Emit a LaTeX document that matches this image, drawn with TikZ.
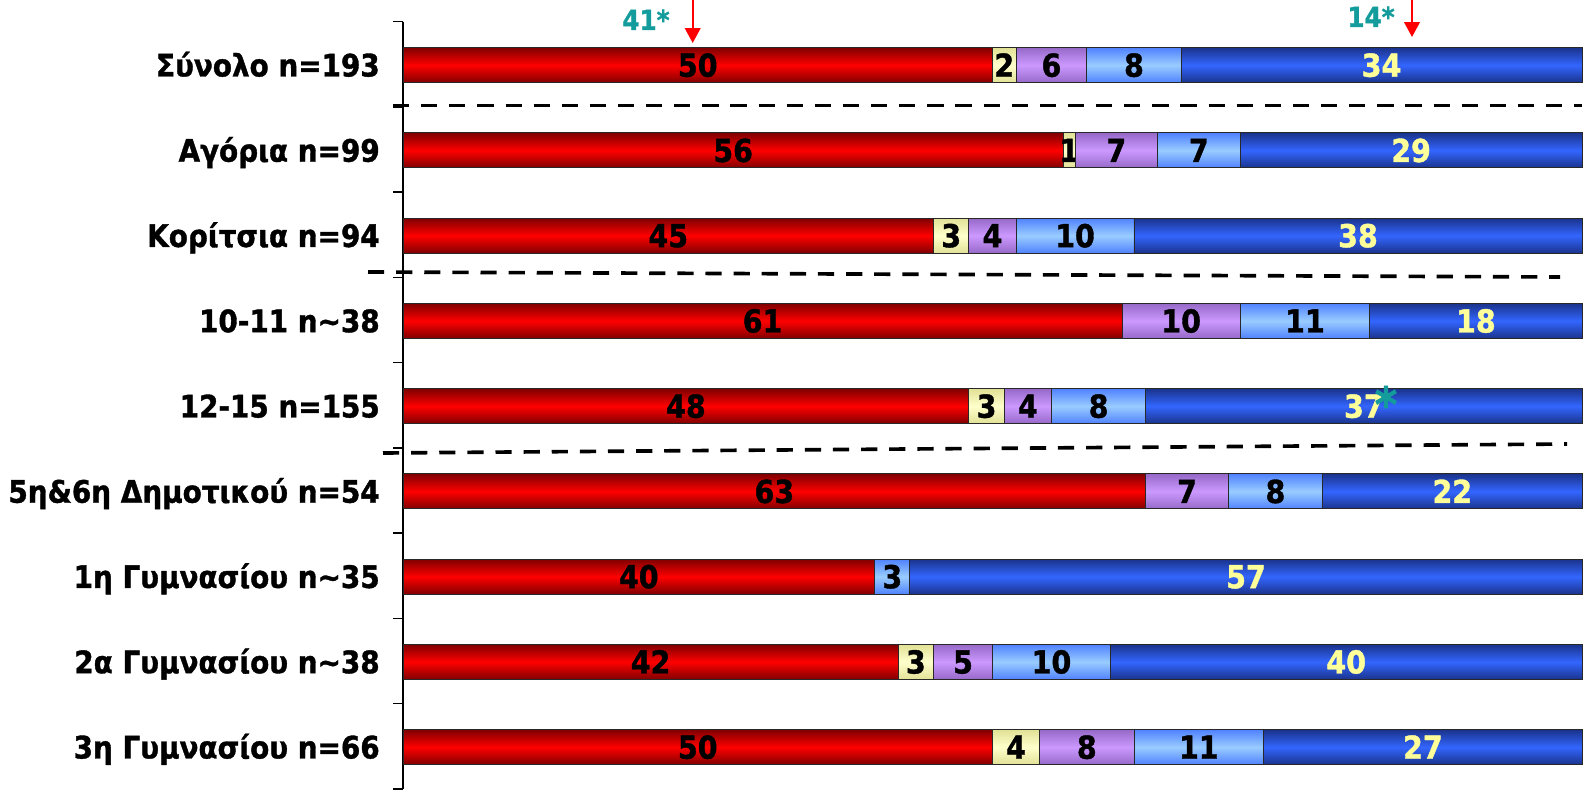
\documentclass[tikz,border=0pt]{standalone}
\usepackage{fontspec}
\newfontfamily\chartfont{DejaVu Sans}[FakeStretch=0.9,BoldFeatures={FakeBold=1.2}]
\usetikzlibrary{arrows.meta}

\definecolor{redDark}{RGB}{128,0,0}
\definecolor{redMid}{RGB}{255,0,0}
\definecolor{yelDark}{RGB}{225,225,150}
\definecolor{yelMid}{RGB}{255,255,204}
\definecolor{purDark}{RGB}{150,105,200}
\definecolor{purMid}{RGB}{204,153,255}
\definecolor{ltbDark}{RGB}{80,130,255}
\definecolor{ltbMid}{RGB}{153,204,255}
\definecolor{dkbDark}{RGB}{26,51,140}
\definecolor{dkbMid}{RGB}{51,102,255}
\definecolor{valueLight}{RGB}{255,255,153}
\definecolor{tealStar}{RGB}{20,155,155}
\definecolor{barEdge}{RGB}{40,40,40}

%% one piece of a bar: start, end, row centre, style, value, node name, text colour
\newcommand{\barPiece}[7]{%
  \ifdim #5pt>0pt
    \draw[#4] (#1,#3-17.5) rectangle (#2,#3+17.5);
    \node[valueDecorate,text=#7] (#6) at ({(#1+#2)/2},#3) {#5};
  \fi}

\begin{document}
\begin{tikzpicture}
[x=0.025cm,y=-0.025cm,
  barRed/.style={draw=barEdge,line width=0.7pt,top color=redDark,bottom color=redDark,middle color=redMid},
  barYel/.style={draw=barEdge,line width=0.7pt,top color=yelDark,bottom color=yelDark,middle color=yelMid},
  barPur/.style={draw=barEdge,line width=0.7pt,top color=purDark,bottom color=purDark,middle color=purMid},
  barLtb/.style={draw=barEdge,line width=0.7pt,top color=ltbDark,bottom color=ltbDark,middle color=ltbMid},
  barDkb/.style={draw=barEdge,line width=0.7pt,top color=dkbDark,bottom color=dkbDark,middle color=dkbMid},
  labelDecorate/.style={anchor=east,inner sep=0pt,text height=16pt,text depth=0pt,
    font=\chartfont\bfseries\fontsize{22}{22}\selectfont},
  valueDecorate/.style={inner sep=0pt,text height=16.4pt,text depth=0pt,
    font=\chartfont\bfseries\fontsize{22.5}{22.5}\selectfont},
  starDecorate/.style={inner sep=0pt,text=tealStar,text height=14pt,text depth=0pt,
    font=\chartfont\bfseries\fontsize{19.5}{19.5}\selectfont},
  sepDecorate/.style={line width=2.6pt,dash pattern=on 11.5pt off 8.5pt},
  axisDecorate/.style={line width=1pt},
  arrowDecorate/.style={red,line width=1.4pt,-{Triangle[width=11pt,length=10.5pt]}}]
\useasboundingbox (0,0) rectangle (1590,793);
%% axis and ticks
\draw[axisDecorate] (403,21.7) -- (403,789);
\foreach \t in {0,...,9}
{
  \draw[axisDecorate] (393,21.7+85.25*\t) -- (403,21.7+85.25*\t);
}
%% bars
\foreach \lab/\va/\vb/\vc/\vd/\ve [count=\k from 0] in
  {Σύνολο n=193/50/2/6/8/34,
   Αγόρια n=99/56/1/7/7/29,
   Κορίτσια n=94/45/3/4/10/38,
   10-11 n\textasciitilde38/61/0/10/11/18,
   12-15 n=155/48/3/4/8/37,
   5η\&6η Δημοτικού n=54/63/0/7/8/22,
   1η Γυμνασίου n\textasciitilde35/40/0/0/3/57,
   2α Γυμνασίου n\textasciitilde38/42/3/5/10/40,
   3η Γυμνασίου n=66/50/4/8/11/27}
{
  \pgfmathsetmacro\yc{65.2+85.25*\k}
  \pgfmathsetmacro\xa{403+11.79*\va}
  \pgfmathsetmacro\xb{\xa+11.79*\vb}
  \pgfmathsetmacro\xc{\xb+11.79*\vc}
  \pgfmathsetmacro\xd{\xc+11.79*\vd}
  \node[labelDecorate] (lab\k) at (380,\yc) {\lab};
  \barPiece{403}{\xa}{\yc}{barRed}{\va}{v\k-a}{black}
  \barPiece{\xa}{\xb}{\yc}{barYel}{\vb}{v\k-b}{black}
  \barPiece{\xb}{\xc}{\yc}{barPur}{\vc}{v\k-c}{black}
  \barPiece{\xc}{\xd}{\yc}{barLtb}{\vd}{v\k-d}{black}
  \barPiece{\xd}{1582}{\yc}{barDkb}{\ve}{v\k-e}{valueLight}
}
%% separators
\coordinate (sepA1) at (393,105.5);  \coordinate (sepA2) at (1582,105.5);
\coordinate (sepB1) at (368,272);    \coordinate (sepB2) at (1560,277);
\coordinate (sepC1) at (383,453);    \coordinate (sepC2) at (1567,444);
\foreach \s in {A,B,C}
{
  \draw[sepDecorate] (sep\s1) -- (sep\s2);
}
%% marks at the top
\coordinate (arrA1) at (692.7,0);  \coordinate (arrA2) at (692.7,43);
\coordinate (arrB1) at (1412,0);   \coordinate (arrB2) at (1412,37);
\draw[arrowDecorate] (arrA1) -- (arrA2);
\draw[arrowDecorate] (arrB1) -- (arrB2);
\node[starDecorate] (markA) at (646,20) {41*};
\node[starDecorate] (markB) at (1371,17) {14*};
\node[starDecorate,font=\chartfont\bfseries\fontsize{34}{34}\selectfont,text height=22pt] (markC) at (1386,406) {*};
\end{tikzpicture}
\end{document}
